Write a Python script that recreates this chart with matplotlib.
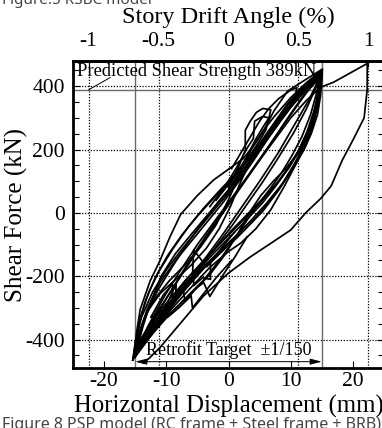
import matplotlib
matplotlib.use("Agg")
import matplotlib.pyplot as plt
from matplotlib.ticker import MultipleLocator, FixedLocator, FixedFormatter

plt.rcParams['font.family'] = ['Liberation Serif', 'DejaVu Serif']
plt.rcParams['axes.unicode_minus'] = False

# ---- chart values -------------------------------------------------------
MM_PER_PERCENT = 22.5          # story height 2250 mm -> 1 % drift = 22.5 mm
disp_ticks = [-20, -10, 0, 10, 20]
force_ticks = [-400, -200, 0, 200, 400]
drift_ticks = [-1, -0.5, 0, 0.5, 1]
drift_labels = ["-1", "-0.5", "0", "0.5", "1"]
shear_strength = 389           # kN
target_disp = 15.0             # mm, 1/150 drift
arrow_force = -470

# hysteresis cycles to the +-1/150 target, (displacement mm, shear kN)
cycle_1 = [(-15.2, -452), (-14.8, -380), (-14.2, -305), (-12.6, -215), (-11.0, -150), (-9.4, -75),
           (-7.7, -5), (-5.0, 55), (-2.4, 104), (0.0, 138), (2.4, 172), (4.4, 222), (5.6, 258),
           (7.3, 322), (9.5, 385), (12.7, 425), (14.9, 452),
           (14.7, 400), (14.4, 340), (13.6, 280), (12.5, 215), (11.0, 160), (9.0, 85), (6.8, 10),
           (4.4, -50), (2.0, -95), (0.0, -122), (-3.0, -172), (-6.0, -235), (-9.0, -300),
           (-11.5, -360), (-13.5, -410), (-15.2, -452)]
cycle_2 = [(-15.0, -445), (-14.5, -398), (-13.3, -322), (-11.3, -242), (-9.1, -172), (-6.6, -96),
           (-4.1, -28), (-1.6, 36), (1.0, 96), (3.4, 158), (6.0, 226), (8.5, 296), (11.0, 358),
           (13.2, 408), (15.0, 446),
           (14.6, 372), (13.8, 302), (12.5, 232), (10.8, 162), (8.8, 96), (6.5, 36), (4.0, -24),
           (1.5, -76), (-1.0, -121), (-4.0, -176), (-7.0, -242), (-10.0, -311), (-12.8, -384),
           (-15.0, -445)]
cycle_3 = [(-14.9, -440), (-13.5, -394), (-11.5, -321), (-9.0, -238), (-6.5, -158), (-4.0, -84),
           (-1.5, -12), (1.0, 58), (3.5, 128), (6.0, 198), (8.5, 268), (11.0, 338), (13.2, 398),
           (15.0, 438),
           (14.0, 394), (12.5, 328), (10.5, 254), (8.0, 174), (5.5, 98), (3.0, 28), (0.5, -42),
           (-2.0, -106), (-4.5, -172), (-7.0, -240), (-9.5, -306), (-12.0, -368), (-14.0, -418),
           (-14.9, -440)]
cycle_4 = [(-15.3, -461), (-14.6, -392), (-13.5, -331), (-11.8, -270), (-9.5, -214), (-7.0, -164),
           (-4.5, -108), (-2.0, -38), (0.0, 42), (1.8, 122), (3.6, 198), (5.5, 258), (7.5, 308),
           (10.0, 364), (12.5, 411), (14.8, 448),
           (14.2, 381), (13.2, 311), (11.8, 241), (10.2, 181), (8.6, 129), (6.8, 79), (4.8, 28),
           (3.0, -22), (1.0, -82), (-1.5, -151), (-4.0, -212), (-7.0, -271), (-10.0, -331),
           (-12.8, -396), (-15.3, -461)]
cycle_5 = [(-14.8, -436), (-13.8, -362), (-12.5, -281), (-10.8, -199), (-8.5, -128), (-6.0, -68),
           (-3.0, 2), (0.0, 71), (3.0, 152), (5.5, 226), (8.0, 296), (10.5, 356), (12.8, 406),
           (14.7, 442),
           (14.3, 362), (13.5, 286), (12.2, 214), (10.5, 148), (8.5, 88), (6.0, 28), (3.5, -26),
           (1.0, -76), (-2.0, -131), (-5.0, -196), (-8.0, -266), (-11.0, -336), (-13.2, -391),
           (-14.8, -436)]
cycle_6 = [(-15.1, -450), (-14.9, -420), (-14.4, -350), (-13.4, -280), (-11.8, -205), (-9.8, -135),
           (-7.5, -70), (-5.0, -10), (-2.0, 55), (1.0, 115), (4.0, 185), (6.5, 250), (9.0, 318),
           (11.5, 378), (13.5, 420), (15.1, 455),
           (15.0, 420), (14.8, 370), (14.3, 310), (13.3, 250), (12.0, 195), (10.2, 135), (8.0, 70),
           (5.5, 5), (2.5, -55), (-0.5, -105), (-3.5, -160), (-6.5, -222), (-9.5, -290),
           (-12.0, -350), (-14.0, -405), (-15.1, -450)]
cycle_7 = [(-14.9, -428), (-12.0, -330), (-9.0, -240), (-6.0, -150), (-3.0, -60), (0.0, 25),
           (3.0, 110), (6.0, 195), (9.0, 285), (12.0, 370), (14.6, 425),
           (13.0, 360), (10.5, 275), (8.0, 190), (5.0, 100), (2.0, 15), (-1.0, -70), (-4.0, -150),
           (-7.0, -230), (-10.0, -310), (-12.5, -375), (-14.9, -428)]
cycle_8 = [(-15.4, -465), (-15.0, -410), (-14.0, -330), (-12.2, -250), (-10.0, -180), (-7.5, -115),
           (-5.0, -55), (-2.5, 5), (0.5, 75), (3.0, 140), (5.0, 200), (7.0, 270), (9.5, 340),
           (12.0, 395), (14.6, 432),
           (14.2, 350), (13.0, 270), (11.5, 205), (9.5, 140), (7.5, 85), (5.0, 30), (2.0, -30),
           (-1.0, -90), (-4.0, -150), (-7.0, -215), (-10.0, -285), (-12.5, -350), (-14.5, -410),
           (-15.4, -465)]
cycle_9 = [(-15.2, -448), (-14.9, -400), (-14.0, -320), (-12.8, -250), (-11.2, -185), (-9.0, -115),
           (-6.5, -45), (-4.0, 15), (-1.0, 80), (2.0, 140), (4.5, 205), (7.0, 275), (9.5, 345),
           (12.0, 400), (14.9, 445),
           (14.5, 385), (13.7, 320), (12.6, 255), (11.2, 195), (9.6, 140), (7.6, 85), (5.4, 30),
           (3.0, -20), (0.5, -70), (-2.5, -130), (-5.5, -195), (-8.5, -265), (-11.2, -330),
           (-13.4, -395), (-15.2, -448)]
cycle_10 = [(-14.7, -425), (-14.2, -370), (-13.0, -300), (-11.0, -220), (-8.5, -150), (-6.0, -90),
            (-3.5, -30), (-1.0, 30), (1.5, 95), (4.0, 165), (6.5, 240), (9.0, 310), (11.5, 372),
            (13.8, 418), (15.0, 436),
            (14.8, 400), (14.2, 335), (13.0, 265), (11.5, 200), (9.8, 145), (7.8, 95), (5.5, 45),
            (3.0, -5), (0.5, -55), (-2.0, -110), (-5.0, -180), (-8.0, -250), (-11.0, -320),
            (-13.5, -385), (-14.7, -425)]
cycle_11 = [(-15.0, -455), (-14.3, -380), (-13.0, -310), (-11.0, -255), (-8.5, -210), (-6.0, -165),
            (-3.5, -110), (-1.5, -50), (0.3, 20), (2.0, 100), (3.8, 175), (5.8, 235), (8.0, 290),
            (10.5, 345), (13.0, 400), (15.0, 440),
            (14.6, 370), (13.8, 300), (12.6, 235), (11.0, 185), (9.2, 140), (7.2, 100), (5.2, 55),
            (3.5, 5), (1.8, -55), (-0.5, -130), (-3.0, -195), (-6.0, -255), (-9.0, -310),
            (-12.0, -375), (-15.0, -455)]

# partial cycles with load drops
inner_lower_1 = [(1.0, -60), (-1.5, -120), (-2.9, -157), (-2.9, -210), (-4.2, -205), (-5.6, -230),
                 (-5.6, -185), (-7.0, -215), (-8.5, -260), (-8.4, -225), (-9.8, -283), (-11.0, -330),
                 (-10.2, -300), (-8.6, -262), (-7.2, -250), (-7.0, -280), (-5.2, -238), (-4.0, -220),
                 (-3.0, -264), (-1.0, -200), (1.0, -140), (3.0, -75)]
inner_lower_2 = [(-0.5, -110), (-3.5, -170), (-5.6, -117), (-5.8, -200), (-7.5, -230), (-9.0, -270),
                 (-9.0, -225), (-10.5, -260), (-12.5, -330), (-11.5, -320), (-10.0, -300),
                 (-9.8, -330), (-8.0, -300), (-6.0, -262), (-5.8, -300), (-4.0, -255), (-2.0, -205),
                 (0.5, -150)]
inner_upper_1 = [(-2.0, 40), (0.0, 90), (1.5, 140), (2.7, 198), (2.7, 261), (3.5, 290), (4.5, 318),
                 (5.5, 330), (6.8, 326), (6.5, 300), (5.5, 270), (4.3, 230), (3.0, 180), (1.5, 130),
                 (0.0, 80)]
inner_upper_2 = [(0.5, 140), (2.0, 190), (3.5, 240), (5.0, 290), (6.5, 330), (8.0, 360), (10.0, 388),
                 (11.0, 396), (10.6, 360), (9.5, 320), (8.0, 280), (6.5, 240), (4.5, 190), (2.5, 140)]
inner_upper_3 = [(-3.0, 20), (-0.5, 85), (1.5, 150), (3.0, 205), (4.0, 235), (4.2, 290), (5.5, 305),
                 (6.5, 300), (6.0, 262), (4.8, 222), (3.4, 180), (1.5, 120), (-0.5, 55)]

# last cycle pushed to 1 % drift
final_run = [(-15.0, -446), (-13.0, -360), (-10.5, -270), (-8.0, -190), (-5.0, -100), (-2.0, -20),
             (1.0, 60), (4.0, 140), (7.0, 220), (10.0, 300), (12.5, 355), (14.8, 397), (16.9, 413),
             (22.3, 472), (22.3, 390), (21.8, 300), (20.0, 230), (18.3, 167), (16.5, 85),
             (14.8, 45), (12.4, 0), (10.0, -54), (6.5, -100), (3.5, -139), (0.0, -190),
             (-4.0, -262), (-8.0, -355), (-11.0, -425), (-12.8, -460), (-13.7, -474)]

curves = [cycle_1, cycle_2, cycle_3, cycle_4, cycle_5, cycle_6, cycle_7, cycle_8, cycle_9,
          cycle_10, cycle_11, inner_lower_1, inner_lower_2, inner_upper_1, inner_upper_2,
          inner_upper_3, final_run]

# ---- figure -------------------------------------------------------------
W, H = 382, 428
fig = plt.figure(figsize=(W / 100, H / 100), dpi=100)
ax = fig.add_axes([73 / W, 60 / H, (384 - 73) / W, (368 - 61) / H])
ax.set_xlim(-25, 25)
ax.set_ylim(-490, 480)

dot = (0, (1.0, 1.3))
for f in force_ticks:
    ax.axhline(f, color='black', lw=0.9, ls=dot, zorder=1)
for d in drift_ticks:
    ax.axvline(d * MM_PER_PERCENT, color='black', lw=0.9, ls=dot, zorder=1)

grey = '#6a6a6a'
ax.axhline(shear_strength, color=grey, lw=1.0, zorder=1)
ax.axvline(-target_disp, color=grey, lw=1.0, zorder=1)
ax.axvline(target_disp, color=grey, lw=1.0, zorder=1)

for c in curves:
    xs = [p[0] for p in c]
    fs = [p[1] for p in c]
    ax.plot(xs, fs, color='black', lw=1.25, solid_joinstyle='round', zorder=3)

# annotations
ax.text(-24.3, 447, f"Predicted Shear Strength {shear_strength}kN", fontsize=13.3,
        ha='left', va='center', zorder=4)
ax.annotate("", xy=(-22.5, shear_strength), xytext=(-19.0, 428),
            arrowprops=dict(arrowstyle='-', lw=0.7, color='black', shrinkA=0, shrinkB=0))
ax.annotate("", xy=(-target_disp, arrow_force), xytext=(target_disp, arrow_force),
            arrowprops=dict(arrowstyle='<|-|>,head_length=0.7,head_width=0.18', lw=0.7,
                            color='black', shrinkA=0, shrinkB=0))
ax.text(-13.3, -432, "Retrofit Target  \u00b11/150", fontsize=13, ha='left', va='center', zorder=4)

# axes styling
for s in ['left', 'top', 'bottom']:
    ax.spines[s].set_linewidth(2.0)
ax.spines['right'].set_linewidth(1.0)

ax.xaxis.set_major_locator(FixedLocator(disp_ticks))
ax.yaxis.set_major_locator(FixedLocator(force_ticks))
ax.yaxis.set_minor_locator(MultipleLocator(50))
ax.tick_params(axis='both', which='both', direction='in', labelsize=15.5)
ax.tick_params(axis='y', which='major', length=5, width=0.8, right=True, pad=6)
ax.tick_params(axis='y', which='minor', length=4, width=0.8, right=True)
ax.tick_params(axis='x', which='major', length=5, width=0.8, pad=3)

ax.set_xlabel("Horizontal Displacement (mm)", fontsize=17.8, labelpad=3)
ax.set_ylabel("Shear Force (kN)", fontsize=18)
ax.yaxis.set_label_coords(-0.145, 0.5)

top = ax.secondary_xaxis('top', functions=(lambda x: x / MM_PER_PERCENT,
                                           lambda d: d * MM_PER_PERCENT))
top.xaxis.set_major_locator(FixedLocator(drift_ticks))
top.xaxis.set_major_formatter(FixedFormatter(drift_labels))
top.tick_params(direction='in', length=4, width=0.8, labelsize=15.5, pad=7)
top.spines['top'].set_linewidth(2.0)
top.set_xlabel("Story Drift Angle (%)", fontsize=17.5, labelpad=7)

# surrounding document captions
fig.text(2 / W, 1 - 1 / H, "Figure.5 RSBC model", fontsize=11, family='Noto Sans',
         color='#444444', ha='left', va='center')
fig.text(2 / W, 3 / H, "Figure 8 PSP model (RC frame + Steel frame + BRB)", fontsize=11.5,
         family='Noto Sans', color='#444444', ha='left', va='center')

fig.savefig("out.png", dpi=100)
